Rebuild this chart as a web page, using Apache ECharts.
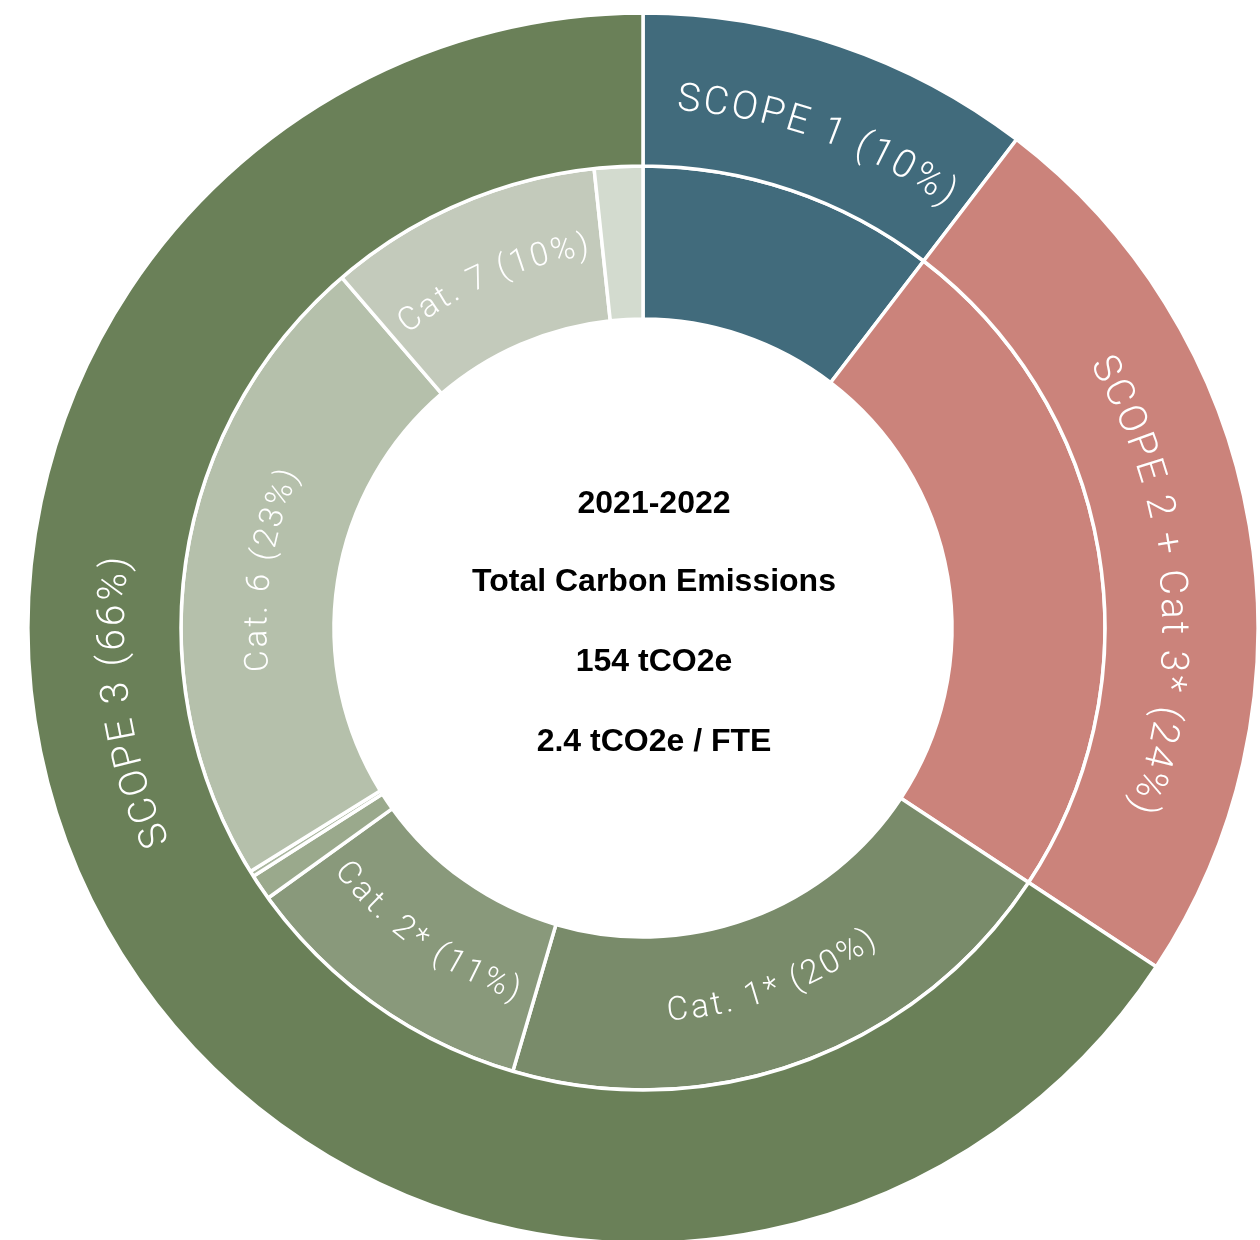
<!DOCTYPE html>
<html>
<head>
<meta charset="utf-8">
<script src="https://cdn.jsdelivr.net/npm/echarts@6/dist/echarts.min.js"></script>
<style>
html,body{margin:0;padding:0;background:#ffffff;}
#chart{width:1260px;height:1240px;}
</style>
</head>
<body>
<div id="chart"></div>
<script>
// ---------------- DATA (tCO2e, total 154) ----------------
const scopeNames  = ['SCOPE 1', 'SCOPE 2 + Cat 3*', 'SCOPE 3'];
const scopeValues = [16.0, 36.8, 101.2];
const scopeLabels = ['SCOPE 1 (10%)', 'SCOPE 2 + Cat 3* (24%)', 'SCOPE 3 (66%)'];

const innerNames  = ['Scope 1', 'Scope 2 + Cat 3*', 'Cat. 1*', 'Cat. 2*', 'Cat. 4', 'Cat. 5', 'Cat. 6', 'Cat. 7', 'Cat. 8'];
const innerValues = [16.0, 36.8, 31.2, 16.2, 1.4, 0.3, 34.7, 14.8, 2.6];
const innerLabels = ['', '', 'Cat. 1* (20%)', 'Cat. 2* (11%)', '', '', 'Cat. 6 (23%)', 'Cat. 7 (10%)', ''];

const centerLines = ['2021-2022', 'Total Carbon Emissions', '154 tCO2e', '2.4 tCO2e / FTE'];

// ---------------- STYLE ----------------
const scopeColors = ['#416b7c', '#cb837b', '#6a8058'];
const innerColors = ['#416b7c', '#cb837b', '#798b6a', '#89997b', '#9aa98c', '#aab79f', '#b5c0ab', '#c3cabb', '#d3dbcf'];
const outerLabelShift = [1, 4.5, 20];     // degrees, label placement tweak
const CX = 643, CY = 628;
const R_HOLE = 309, R_MID = 462, R_OUT = 615;
const R_TXT_OUT = 529, R_TXT_IN = 385;
const LABEL_FONT = 'Roboto';

const measureCtx = document.createElement('canvas').getContext('2d');

function midAngles(values) {
  const total = values.reduce((a, b) => a + b, 0);
  let cum = 0;
  return values.map(v => { const m = (cum + v / 2) / total * 360; cum += v; return m; });
}

function arcText(text, centerDeg, r, fontSize, tracking) {
  const flip = centerDeg > 100 && centerDeg < 250;
  measureCtx.font = '300 ' + fontSize + 'px ' + LABEL_FONT;
  const chars = Array.from(text);
  const widths = chars.map(ch => measureCtx.measureText(ch).width);
  const total = widths.reduce((a, b) => a + b, 0) + tracking * (chars.length - 1);
  const spanDeg = total / r * 180 / Math.PI;
  const els = [];
  let acc = 0;
  chars.forEach((ch, k) => {
    const mid = acc + widths[k] / 2;
    acc += widths[k] + tracking;
    if (ch === ' ') return;
    const dDeg = mid / r * 180 / Math.PI;
    const ang = flip ? centerDeg + spanDeg / 2 - dDeg : centerDeg - spanDeg / 2 + dDeg;
    const a = ang * Math.PI / 180;
    els.push({
      type: 'text',
      x: CX + r * Math.sin(a),
      y: CY - r * Math.cos(a),
      rotation: flip ? Math.PI - a : -a,
      silent: true,
      z: 100,
      style: {
        text: ch, fill: '#ffffff', fontSize: fontSize, fontWeight: 300,
        fontFamily: LABEL_FONT, align: 'center', verticalAlign: 'middle'
      }
    });
  });
  return els;
}

const graphics = [];
const outerMids = midAngles(scopeValues);
scopeLabels.forEach((t, i) => {
  if (t) graphics.push(...arcText(t, outerMids[i] + outerLabelShift[i], R_TXT_OUT, 39, 3));
});
const innerMids = midAngles(innerValues);
innerLabels.forEach((t, i) => {
  if (t) graphics.push(...arcText(t, innerMids[i], R_TXT_IN, 33, 2.8));
});
const lineY = [504, 582, 662, 742];
centerLines.forEach((t, i) => {
  graphics.push({
    type: 'text', x: 654, y: lineY[i], silent: true, z: 100,
    style: {
      text: t, fill: '#000000', fontSize: 32, fontWeight: 'bold',
      fontFamily: 'Liberation Sans', align: 'center', verticalAlign: 'middle'
    }
  });
});

const chart = echarts.init(document.getElementById('chart'), null, { renderer: 'canvas' });
chart.setOption({
  animation: false,
  backgroundColor: '#ffffff',
  series: [
    {
      type: 'pie',
      center: [CX, CY],
      radius: [R_HOLE, R_MID],
      startAngle: 90,
      clockwise: true,
      silent: true,
      label: { show: false },
      labelLine: { show: false },
      itemStyle: { borderColor: '#ffffff', borderWidth: 3.5 },
      data: innerValues.map((v, i) => ({ name: innerNames[i], value: v, itemStyle: { color: innerColors[i] } }))
    },
    {
      type: 'pie',
      center: [CX, CY],
      radius: [R_MID, R_OUT],
      startAngle: 90,
      clockwise: true,
      silent: true,
      label: { show: false },
      labelLine: { show: false },
      itemStyle: { borderColor: '#ffffff', borderWidth: 3.5 },
      data: scopeValues.map((v, i) => ({ name: scopeNames[i], value: v, itemStyle: { color: scopeColors[i] } }))
    }
  ],
  graphic: { elements: graphics }
});
</script>
</body>
</html>
